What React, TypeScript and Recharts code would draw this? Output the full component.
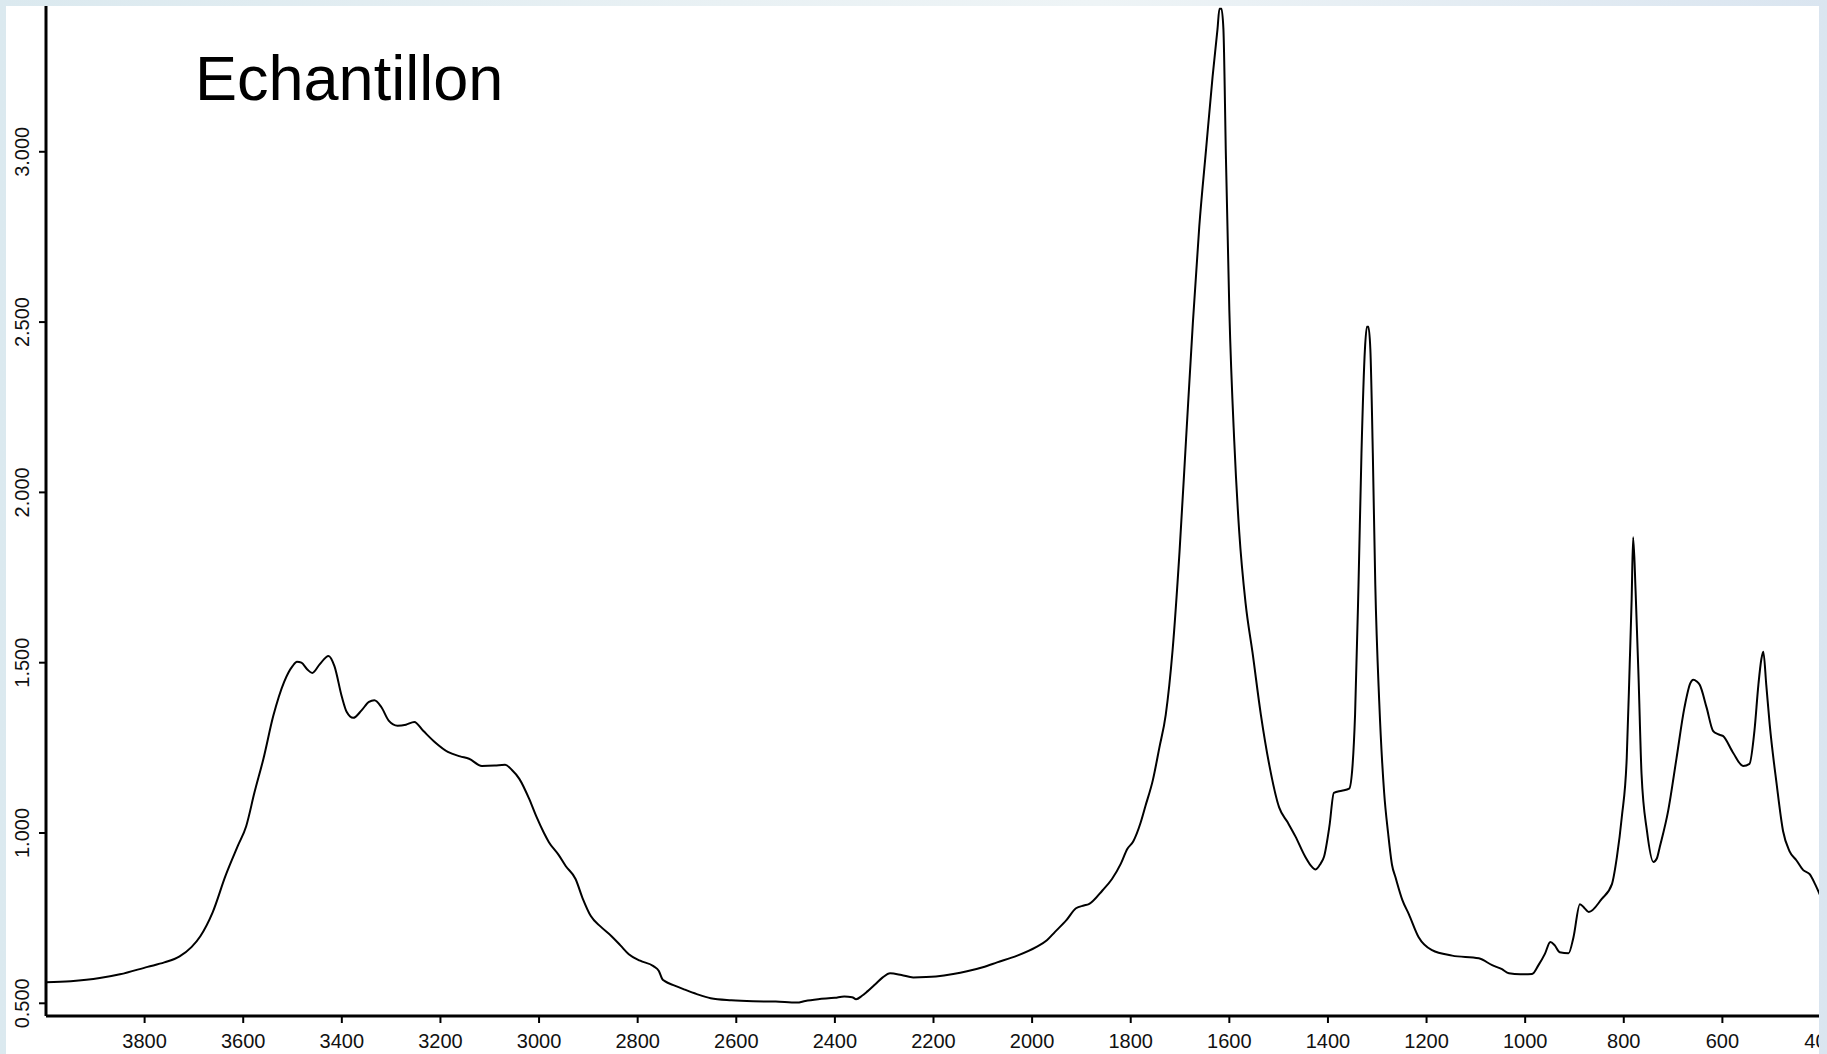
import { LineChart, Line, XAxis, YAxis } from "recharts";

// IR spectrum (wavenumber cm-1, absorbance)
const wavenumbers = [
  4000, 3950, 3891, 3850, 3794, 3760, 3729, 3705, 3687, 3662, 3636, 3611, 3594, 3577, 3559, 3539, 3517, 3500,
  3491, 3482, 3470, 3460, 3445, 3427, 3415, 3400, 3390, 3377, 3360, 3345, 3334, 3320, 3305, 3287, 3270, 3253,
  3235, 3210, 3185, 3160, 3142, 3116, 3090, 3069, 3055, 3040, 3020, 3006, 2990, 2980, 2960, 2946, 2926, 2911,
  2895, 2875, 2853, 2835, 2818, 2795, 2768, 2757, 2750, 2745, 2725, 2706, 2680, 2652, 2610, 2566, 2520, 2477,
  2460, 2434, 2400, 2381, 2365, 2357, 2345, 2334, 2318, 2303, 2288, 2265, 2241, 2215, 2195, 2160, 2132, 2100,
  2071, 2030, 1992, 1970, 1954, 1930, 1911, 1895, 1885, 1857, 1838, 1820, 1807, 1795, 1780, 1770, 1755, 1742,
  1729, 1715, 1701, 1688, 1674, 1661, 1647, 1634, 1624, 1620, 1616, 1612, 1607, 1600, 1590, 1580, 1567, 1553,
  1536, 1519, 1499, 1482, 1466, 1446, 1435, 1425, 1415, 1408, 1397, 1388, 1372, 1357, 1350, 1345, 1338, 1332,
  1325, 1321, 1318, 1314, 1309, 1304, 1296, 1286, 1278, 1270, 1263, 1249, 1236, 1216, 1189, 1148, 1094, 1067,
  1047, 1033, 1010, 986, 973, 960, 949, 940, 930, 912, 902, 889, 880, 871, 845, 824, 814, 804, 794, 788, 784,
  781, 776, 770, 764, 753, 740, 733, 727, 710, 693, 677, 665, 659, 652, 646, 632, 619, 609, 599, 578, 558, 545,
  535, 527, 521, 517, 511, 504, 490, 477, 464, 450, 436, 423, 412, 402, 400,
];
const absorbance = [
  0.562, 0.565, 0.574, 0.585, 0.607, 0.62, 0.638, 0.665, 0.697, 0.767, 0.874, 0.962, 1.02, 1.12, 1.218, 1.344, 1.444, 1.49,
  1.503, 1.5, 1.48, 1.47, 1.495, 1.52, 1.49, 1.4, 1.355, 1.338, 1.36, 1.385, 1.39, 1.37, 1.33, 1.315, 1.318, 1.326,
  1.3, 1.265, 1.238, 1.225, 1.218, 1.197, 1.198, 1.2, 1.185, 1.159, 1.1, 1.05, 1.0, 0.973, 0.935, 0.903, 0.865, 0.806,
  0.756, 0.725, 0.697, 0.67, 0.644, 0.625, 0.609, 0.595, 0.571, 0.565, 0.552, 0.541, 0.527, 0.515, 0.509, 0.506, 0.505, 0.502,
  0.507, 0.512, 0.516, 0.52, 0.518, 0.512, 0.522, 0.535, 0.556, 0.576, 0.588, 0.583, 0.576, 0.577, 0.579, 0.586, 0.594, 0.606,
  0.62, 0.64, 0.665, 0.685, 0.709, 0.745, 0.779, 0.787, 0.791, 0.832, 0.865, 0.91, 0.953, 0.975, 1.03, 1.08, 1.156, 1.25,
  1.347, 1.538, 1.826, 2.15, 2.497, 2.78, 3.01, 3.22, 3.36, 3.42, 3.42, 3.36, 2.99, 2.535, 2.15, 1.885, 1.674, 1.53,
  1.347, 1.2, 1.075, 1.032, 0.99, 0.93, 0.905, 0.893, 0.91, 0.93, 1.02, 1.118, 1.124, 1.13, 1.2, 1.347, 1.73, 2.115,
  2.42, 2.486, 2.486, 2.42, 2.115, 1.73, 1.386, 1.118, 1.0, 0.906, 0.87, 0.803, 0.762, 0.694, 0.656, 0.64, 0.632, 0.612,
  0.6, 0.588, 0.585, 0.586, 0.612, 0.645, 0.68, 0.67, 0.65, 0.647, 0.694, 0.791, 0.78, 0.768, 0.806, 0.85, 0.929, 1.047, 1.22, 1.494, 1.688,
  1.868, 1.709, 1.456, 1.174, 1.006, 0.915, 0.925, 0.959, 1.065, 1.22, 1.368, 1.44, 1.45, 1.445, 1.435, 1.368, 1.3, 1.29, 1.285, 1.235, 1.197, 1.203,
  1.3, 1.435, 1.51, 1.532, 1.435, 1.318, 1.144, 1.006, 0.947, 0.92, 0.891, 0.879, 0.85, 0.818, 0.812,
];

const xTicks = [3800, 3600, 3400, 3200, 3000, 2800, 2600, 2400, 2200, 2000, 1800, 1600, 1400, 1200, 1000, 800, 600, 400];
const yTicks = [0.5, 1.0, 1.5, 2.0, 2.5, 3.0];

const data = wavenumbers.map((w, i) => ({ w, a: absorbance[i] }));

const FONT = '"Liberation Sans", Arial, sans-serif';

function XTick(props: any) {
  const { x, y, payload } = props;
  return (
    <text x={x} y={y + 23} textAnchor="middle" fontSize={20} fontFamily={FONT} fill="#111">
      {payload.value}
    </text>
  );
}

function YTick(props: any) {
  const { y, payload } = props;
  const cx = 22;
  return (
    <text
      x={cx}
      y={y}
      transform={`rotate(-90 ${cx} ${y})`}
      textAnchor="middle"
      dominantBaseline="central"
      fontSize={20}
      fontFamily={FONT}
      fill="#111"
    >
      {payload.value.toFixed(3)}
    </text>
  );
}

export default function App() {
  return (
    <div
      style={{
        position: "absolute",
        left: 0,
        top: 0,
        width: 1827,
        height: 1054,
        background: "linear-gradient(90deg, #dbe9ef 0%, #e9f1f4 40%, #eef4f6 60%, #dae5f0 100%)",
        overflow: "hidden",
      }}
    >
      <div
        style={{
          position: "absolute",
          left: 6,
          top: 6,
          width: 1813,
          height: 1048,
          background: "#fff",
          overflow: "hidden",
        }}
      >
        <div style={{ position: "absolute", left: -6, top: -6 }}>
          <LineChart width={1827} height={1054} data={data} margin={{ top: 6, right: 6, bottom: 0, left: 0 }}>
            <XAxis
              dataKey="w"
              type="number"
              domain={[400, 4000]}
              reversed
              ticks={xTicks}
              interval={0}
              allowDataOverflow
              height={38}
              tickSize={7}
              axisLine={{ stroke: "#000", strokeWidth: 3 }}
              tickLine={{ stroke: "#000", strokeWidth: 2 }}
              tick={(p: any) => <XTick {...p} />}
            />
            <YAxis
              type="number"
              domain={[0.4627, 3.428]}
              ticks={yTicks}
              interval={0}
              allowDataOverflow
              width={46}
              tickSize={7}
              axisLine={{ stroke: "#000", strokeWidth: 3 }}
              tickLine={{ stroke: "#000", strokeWidth: 2 }}
              tick={(p: any) => <YTick {...p} />}
            />
            <Line
              type="monotone"
              dataKey="a"
              stroke="#000"
              strokeWidth={2}
              dot={false}
              activeDot={false}
              isAnimationActive={false}
            />
          </LineChart>
        </div>
        <div
          style={{
            position: "absolute",
            left: 189,
            top: 41,
            fontFamily: FONT,
            fontSize: 63,
            lineHeight: "63px",
            color: "#000",
            whiteSpace: "nowrap",
          }}
        >
          Echantillon
        </div>
      </div>
    </div>
  );
}
